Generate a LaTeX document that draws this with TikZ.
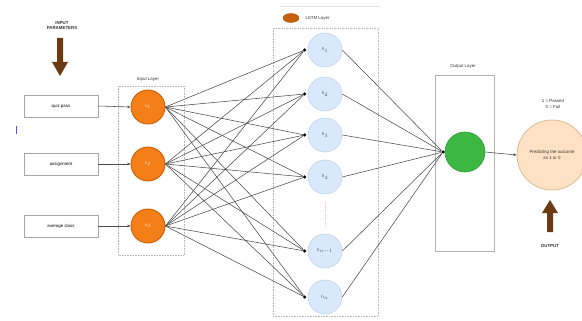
\documentclass[tikz,border=0pt]{standalone}
\usepackage{fontspec}
\setmainfont{Liberation Sans}
\usetikzlibrary{arrows.meta,shapes.geometric,calc}
\definecolor{orng}{HTML}{F57F17}
\definecolor{orngd}{HTML}{C8600A}
\definecolor{lblue}{HTML}{DAE8FC}
\definecolor{lblued}{HTML}{BFD3EE}
\definecolor{grn}{HTML}{3DB843}
\definecolor{grnd}{HTML}{2E9A34}
\definecolor{peach}{HTML}{FFE2C4}
\definecolor{peachd}{HTML}{D9B38C}
\definecolor{brwn}{HTML}{6B3A12}
\tikzset{
  tiny/.style={font=\fontsize{4.4}{5.2}\selectfont},
  inbox/.style={draw=gray!70, line width=0.7pt, minimum width=74pt, minimum height=22pt, inner sep=0pt, tiny},
  incirc/.style={circle, fill=orng, draw=orngd, line width=0.9pt, minimum size=34pt, inner sep=0pt, tiny, text=white!80!orng},
  lstmc/.style={circle, fill=lblue, draw=lblued, line width=0.6pt, minimum size=34pt, inner sep=0pt, tiny, text=gray!70!black},
  layerbox/.style={draw=gray!55, densely dotted, line width=0.6pt},
  outbox/.style={draw=gray!60, line width=0.7pt},
  dotn/.style={circle, fill=black, inner sep=0pt, minimum size=3.5pt},
  conn/.style={draw=black!70, line width=0.55pt},
  lbl/.style={tiny, text=black!80, align=center},
  barrow/.style={fill=brwn, draw=none}
}
\begin{document}
\begin{tikzpicture}[x=1pt,y=-1pt]
\useasboundingbox (0,0) rectangle (582,321);
% input parameters
\node[lbl, font=\fontsize{4.4}{5}\selectfont\bfseries] (inparam) at (62,26) {INPUT\\PARAMETERS};
\path[barrow] (57,38) -- (63,38) -- (63,62) -- (68,62) -- (60,76) -- (52,62) -- (57,62) -- cycle;
% stray mark
\draw[blue!70, line width=0.8pt] (16,126) -- (16,134);
% layer boxes
\draw[layerbox] (118,86) rectangle (184,255);
\node[lbl] (inlab) at (148,79) {Input Layer};
\draw[layerbox] (273,28) rectangle (378,316);
\draw[gray!25, line width=0.5pt] (280,6) -- (380,6);
\node[ellipse, fill=orngd, draw=orng!70!black, minimum width=16pt, minimum height=9pt, inner sep=0pt] (lstmicon) at (291,18) {};
\node[lbl, anchor=west] (lstmlab) at (302,18) {LSTM Layer};
\draw[outbox] (435,75) rectangle (494,251);
\node[lbl] (outlab) at (463,66) {Output Layer};
% input boxes
\node[inbox] (b1) at (61,106) {quiz pass};
\node[inbox] (b2) at (61,164) {assignment};
\node[inbox] (b3) at (61,226) {average class};
% input neurons
\node[incirc] (x1) at (148,107) {x$_1$};
\node[incirc] (x2) at (148,164) {x$_2$};
\node[incirc] (x3) at (148,226) {x$_3$};
\foreach \i in {1,2,3} {
  \draw[conn, -{Latex[length=3pt,width=3pt]}] (b\i.east) -- (x\i.west);
}
% LSTM neurons
\node[lstmc] (h1) at (325,50) {h$_1$};
\node[lstmc] (h2) at (325,94) {h$_2$};
\node[lstmc] (h3) at (325,135) {h$_3$};
\node[lstmc] (h4) at (325,177) {h$_4$};
\node[lstmc] (h5) at (325,251) {h$_{n-1}$};
\node[lstmc] (h6) at (325,297) {h$_n$};
\draw[orng!40, densely dotted, line width=0.6pt] (h4.south) ++(0,8) coordinate (ga) -- ++(0,24) coordinate (gb);
\foreach \j in {1,...,6} {
  \node[dotn] (d\j) at ($(h\j.west)+(-3,0)$) {};
}
\foreach \i in {1,2,3} {
  \foreach \j in {1,...,6} {
    \draw[conn] (x\i.east) -- (d\j);
  }
}
% output
\node[circle, fill=grn, draw=grnd, line width=0.6pt, minimum size=40pt, inner sep=0pt] (g) at (465,152) {};
\node[dotn] (gd) at (443,152) {};
\foreach \j in {1,...,6} {
  \draw[conn] (h\j.east) -- (gd);
}
\node[circle, fill=peach, draw=peachd, line width=0.7pt, minimum size=70pt, inner sep=0pt, lbl] (pred) at (552,155) {Predicting the outcome\\as 1 or 0};
\draw[conn, -{Latex[length=3pt,width=3pt]}] (g.east) -- (pred.west);
\node[lbl] (leg) at (553,104) {1 = Passed\\0 = Fail};
\path[barrow] (550,200) -- (558,213) -- (553,213) -- (553,232) -- (547,232) -- (547,213) -- (542,213) -- cycle;
\node[lbl, font=\fontsize{4.4}{5}\selectfont\bfseries] (outp) at (550,246) {OUTPUT};
\end{tikzpicture}
\end{document}
